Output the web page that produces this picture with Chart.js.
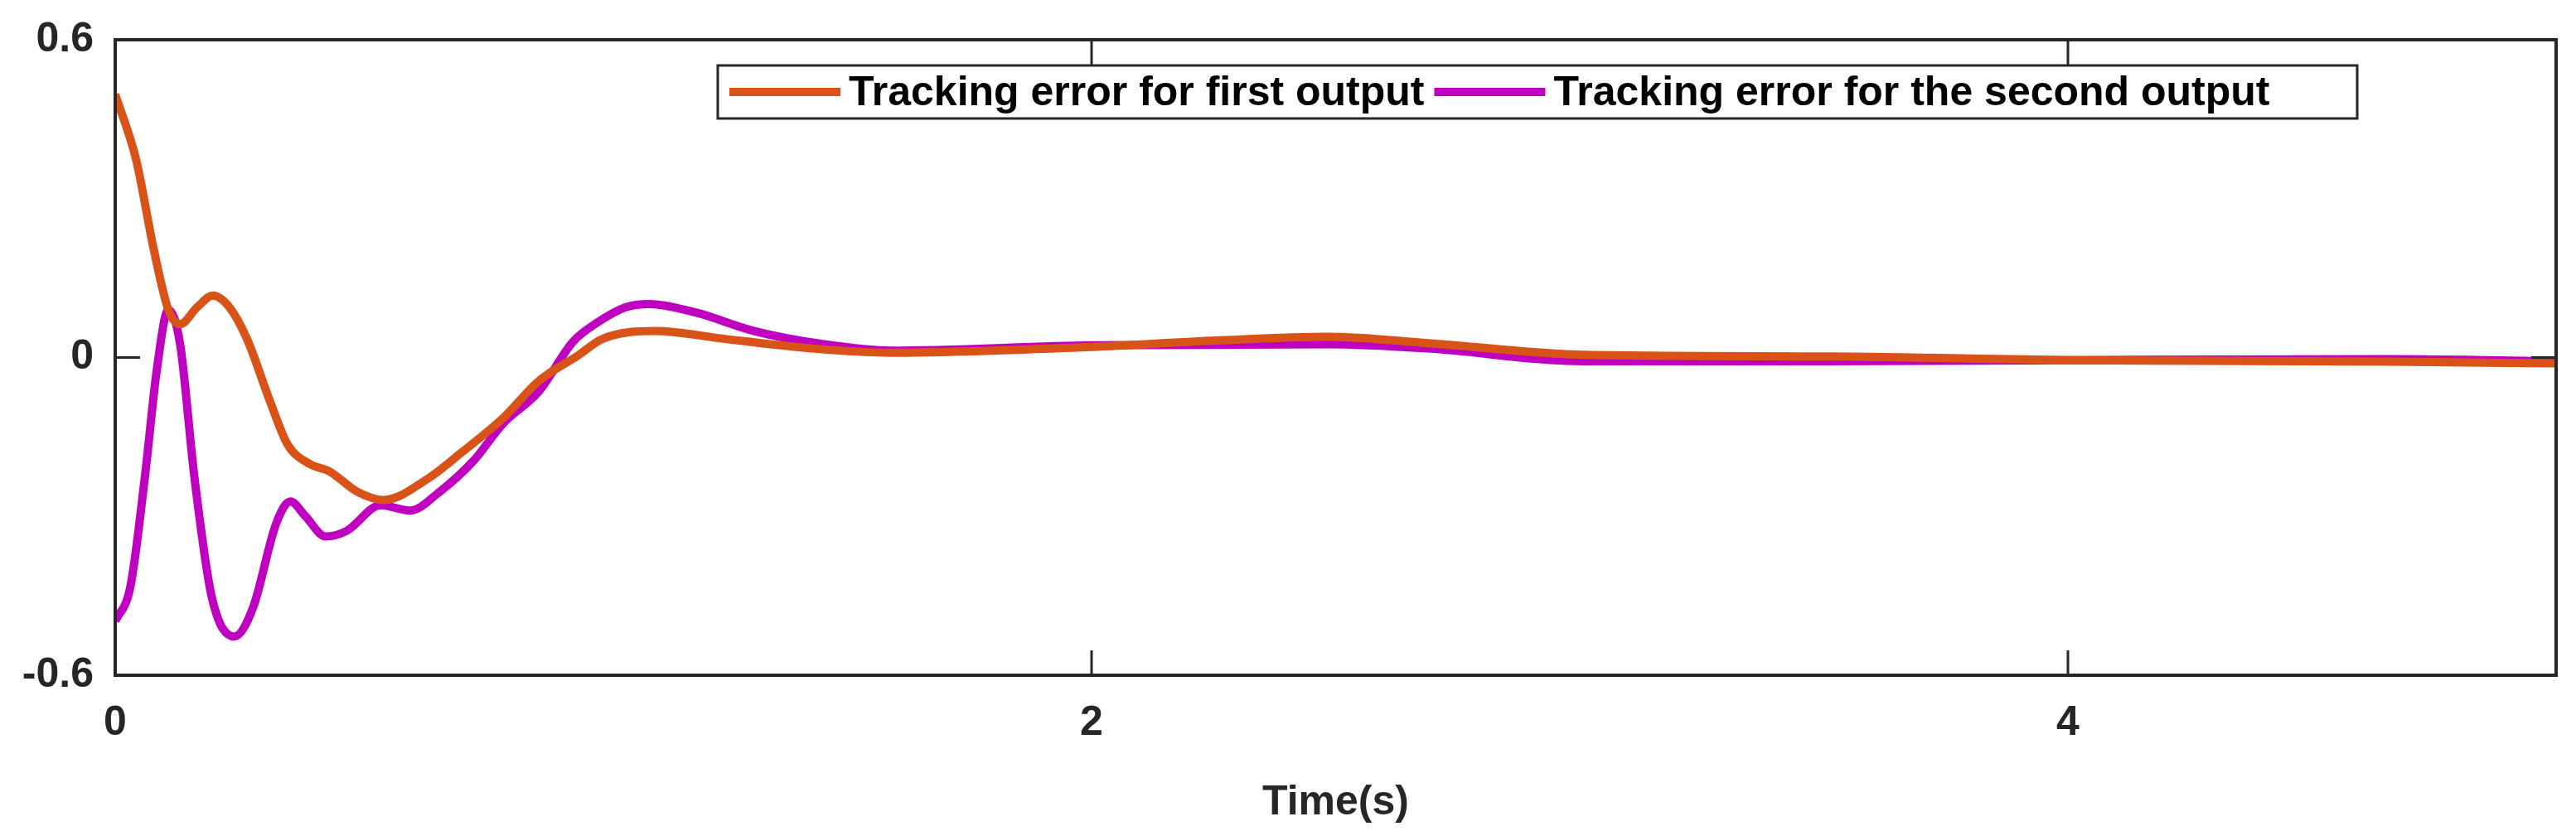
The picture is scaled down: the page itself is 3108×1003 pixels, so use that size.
<!DOCTYPE html>
<html>
<head>
<meta charset="utf-8">
<script src="https://cdn.jsdelivr.net/npm/chart.js@4"></script>
<style>
  html, body { margin: 0; padding: 0; background: #fff; }
  #wrap { width: 3108px; height: 1003px; }
</style>
</head>
<body>
<div id="wrap"><canvas id="chart" width="3108" height="1003"></canvas></div>
<script>
// Series
const time1 = [0, 0.043, 0.079, 0.109, 0.133, 0.168, 0.2, 0.234, 0.27, 0.318, 0.353, 0.40, 0.437, 0.497, 0.55, 0.64, 0.71, 0.795, 0.867, 0.95, 0.998, 1.106, 1.249, 1.428, 1.59, 2.0, 2.256, 2.485, 2.69, 3.01, 3.51, 4.0, 4.66, 5.0];
const err1 = [0.497, 0.373, 0.204, 0.09, 0.063, 0.095, 0.117, 0.095, 0.035, -0.085, -0.164, -0.202, -0.214, -0.254, -0.269, -0.229, -0.179, -0.114, -0.045, 0.005, 0.035, 0.05, 0.035, 0.017, 0.009, 0.02, 0.032, 0.039, 0.027, 0.005, 0.002, -0.005, -0.008, -0.011];
const time2 = [0, 0.031, 0.061, 0.085, 0.109, 0.133, 0.162, 0.198, 0.244, 0.282, 0.33, 0.359, 0.389, 0.431, 0.473, 0.544, 0.604, 0.664, 0.735, 0.795, 0.867, 0.938, 0.986, 1.046, 1.094, 1.189, 1.309, 1.452, 1.59, 2.0, 2.485, 2.69, 3.01, 3.51, 4.0, 4.66, 5.0];
const err2 = [-0.498, -0.433, -0.224, -0.025, 0.09, 0.025, -0.224, -0.453, -0.527, -0.473, -0.313, -0.272, -0.299, -0.338, -0.328, -0.279, -0.289, -0.254, -0.194, -0.124, -0.065, 0.03, 0.065, 0.095, 0.101, 0.085, 0.05, 0.025, 0.013, 0.023, 0.025, 0.017, -0.007, -0.007, -0.005, -0.003, -0.007];
const xTicks = [0, 2, 4];
const yTicks = [-0.6, 0, 0.6];
const seriesNames = ['Tracking error for first output', 'Tracking error for the second output'];
const seriesColors = ['#D95319', '#C000C0'];

function toPoints(xs, ys) {
    return xs.map((x, i) => ({x: x, y: ys[i]}));
}

const axisColor = '#262626';
const tickFont = {family: 'Liberation Sans', size: 50, weight: 'bold'};

// Frame, inward ticks and the boxed legend like MATLAB draws them
const framePlugin = {
    id: 'frame',
    afterDatasetsDraw: (chart) => {
        const ctx = chart.ctx;
        const a = chart.chartArea;
        const xs = chart.scales.x, ys = chart.scales.y;
        ctx.save();
        ctx.strokeStyle = axisColor;
        ctx.lineWidth = 4;
        ctx.strokeRect(a.left, a.top, a.right - a.left, a.bottom - a.top);
        ctx.lineWidth = 3;
        for (const t of xTicks) {
            let px = xs.getPixelForValue(t);
            ctx.beginPath();
            ctx.moveTo(px, a.bottom); ctx.lineTo(px, a.bottom - 30);
            ctx.moveTo(px, a.top); ctx.lineTo(px, a.top + 30);
            ctx.stroke();
        }
        for (const t of yTicks) {
            let py = ys.getPixelForValue(t);
            ctx.beginPath();
            ctx.moveTo(a.left, py); ctx.lineTo(a.left + 30, py);
            ctx.moveTo(a.right, py); ctx.lineTo(a.right - 30, py);
            ctx.stroke();
        }
        // legend box
        const bx = 866, by = 79, bw = 1978, bh = 64;
        ctx.fillStyle = '#fff';
        ctx.fillRect(bx, by, bw, bh);
        ctx.lineWidth = 3;
        ctx.strokeRect(bx, by, bw, bh);
        ctx.font = 'bold 50px "Liberation Sans Narrow", "Liberation Sans", sans-serif';
        ctx.textBaseline = 'middle';
        let cx = bx + 14;
        for (let i = 0; i < seriesNames.length; i++) {
            ctx.strokeStyle = seriesColors[i];
            ctx.lineWidth = 10;
            ctx.beginPath();
            ctx.moveTo(cx, by + bh / 2); ctx.lineTo(cx + 134, by + bh / 2);
            ctx.stroke();
            cx += 144;
            ctx.fillStyle = '#000';
            ctx.fillText(seriesNames[i], cx, by + bh / 2 + 2);
            cx += ctx.measureText(seriesNames[i]).width + 12;
        }
        ctx.restore();
    }
};

new Chart(document.getElementById('chart'), {
    type: 'line',
    data: {
        datasets: [
            {label: seriesNames[0], data: toPoints(time1, err1), borderColor: seriesColors[0], borderWidth: 10, pointRadius: 0, tension: 0.4, cubicInterpolationMode: 'monotone'},
            {label: seriesNames[1], data: toPoints(time2, err2), borderColor: seriesColors[1], borderWidth: 10, pointRadius: 0, tension: 0.4, cubicInterpolationMode: 'monotone'}
        ]
    },
    options: {
        responsive: false,
        animation: false,
        devicePixelRatio: 1,
        layout: {padding: {top: 46, right: 24, left: 0, bottom: 0}},
        plugins: {legend: {display: false}, tooltip: {enabled: false}},
        scales: {
            x: {
                type: 'linear', min: 0, max: 5,
                afterBuildTicks: (s) => { s.ticks = xTicks.map(v => ({value: v})); },
                afterFit: (s) => { s.height = 188; },
                grid: {display: false},
                border: {display: false},
                ticks: {color: axisColor, font: tickFont, padding: 20, maxRotation: 0},
                title: {display: true, text: 'Time(s)', color: axisColor, font: tickFont, padding: {top: 10}}
            },
            y: {
                min: -0.6, max: 0.6,
                afterBuildTicks: (s) => { s.ticks = yTicks.map(v => ({value: v})); },
                afterFit: (s) => { s.width = 139; },
                grid: {display: false},
                border: {display: false},
                ticks: {color: axisColor, font: tickFont, padding: 18, callback: (v) => String(v)}
            }
        }
    },
    plugins: [framePlugin]
});
</script>
</body>
</html>
